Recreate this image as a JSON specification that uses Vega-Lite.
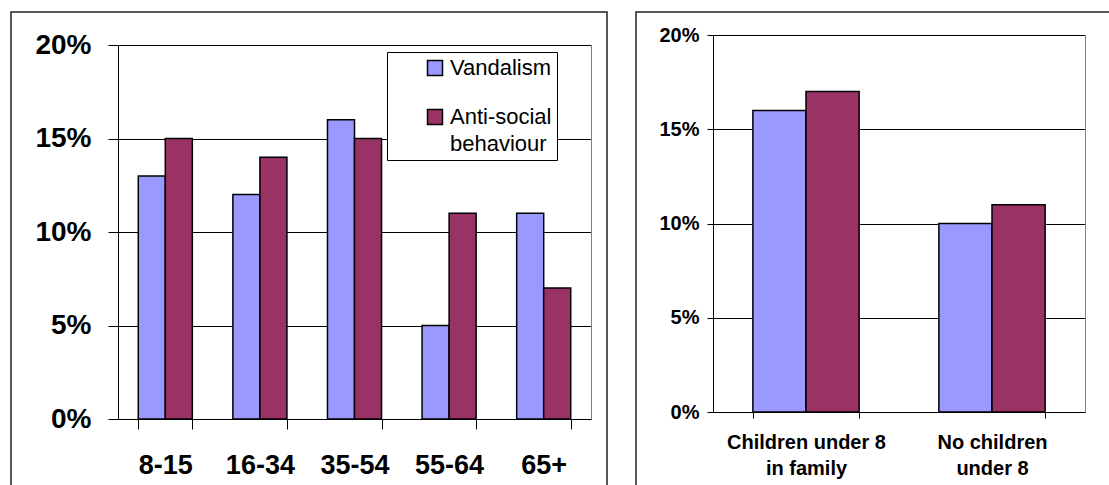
{
  "$schema": "https://vega.github.io/schema/vega-lite/v6.json",
  "background": "white",
  "padding": {"left": 10, "top": 11, "right": 0, "bottom": 0},
  "datasets": {
    "age": [
      {"group": "8-15", "series": "Vandalism", "value": 0.13},
      {"group": "8-15", "series": "Anti-social behaviour", "value": 0.15},
      {"group": "16-34", "series": "Vandalism", "value": 0.12},
      {"group": "16-34", "series": "Anti-social behaviour", "value": 0.14},
      {"group": "35-54", "series": "Vandalism", "value": 0.16},
      {"group": "35-54", "series": "Anti-social behaviour", "value": 0.15},
      {"group": "55-64", "series": "Vandalism", "value": 0.05},
      {"group": "55-64", "series": "Anti-social behaviour", "value": 0.11},
      {"group": "65+", "series": "Vandalism", "value": 0.11},
      {"group": "65+", "series": "Anti-social behaviour", "value": 0.07}
    ],
    "family": [
      {"group": "Children under 8 in family", "series": "Vandalism", "value": 0.16},
      {"group": "Children under 8 in family", "series": "Anti-social behaviour", "value": 0.17},
      {"group": "No children under 8", "series": "Vandalism", "value": 0.10},
      {"group": "No children under 8", "series": "Anti-social behaviour", "value": 0.11}
    ]
  },
  "hconcat": [
    {
      "width": 596,
      "height": 476,
      "data": {"name": "age"},
      "layer": [
        {
          "mark": {"type": "bar", "stroke": "#000000", "strokeWidth": 1.5, "strokeOpacity": 1},
          "encoding": {
            "x": {
              "field": "group", "type": "nominal", "sort": null,
              "scale": {"range": [107, 580], "paddingInner": 0.4286, "paddingOuter": 0.2143},
              "axis": {"orient": "bottom", "offset": -69, "tickBand": "extent", "tickSize": 10, "tickColor": "black", "domainColor": "black", "labelFontSize": 27, "labelPadding": 23, "labelAngle": 0, "title": null, "grid": false}
            },
            "xOffset": {"field": "series", "type": "nominal", "sort": null, "scale": {"paddingInner": 0, "paddingOuter": 0}},
            "y": {
              "field": "value", "type": "quantitative",
              "scale": {"domain": [0, 0.2], "range": [407, 33], "nice": false},
              "axis": {"orient": "left", "offset": -107, "values": [0, 0.05, 0.1, 0.15, 0.2], "format": ".0%", "tickSize": 10, "tickColor": "black", "domainColor": "black", "grid": true, "gridColor": "black", "labelFontSize": 28, "labelPadding": 17, "title": null}
            },
            "color": {
              "field": "series", "type": "nominal", "sort": null,
              "scale": {"domain": ["Vandalism", "Anti-social behaviour"], "range": ["#9999FF", "#993366"]},
              "legend": {
                "orient": "none", "legendX": 376, "legendY": 40, "title": null,
                "strokeColor": "black", "fillColor": "white", "padding": 5,
                "symbolType": "square", "symbolSize": 225, "symbolStrokeColor": "black", "symbolStrokeWidth": 1.5,
                "symbolOffset": 32, "labelOffset": 4,
                "labelFont": "Liberation Sans", "labelFontSize": 22, "labelFontWeight": "normal", "labelColor": "black",
                "labelBaseline": "middle", "labelLimit": 400, "rowPadding": 27,
                "labelExpr": "datum.label == 'Anti-social behaviour' ? ['Anti-social', 'behaviour'] : datum.label"
              }
            }
          }
        },
        {
          "mark": {"type": "rule", "opacity": 0},
          "encoding": {
            "y": {
              "field": "value", "type": "quantitative",
              "axis": {"orient": "right", "offset": -16, "domainColor": "#808080", "ticks": false, "labels": false, "grid": false, "title": null}
            }
          }
        }
      ],
      "resolve": {"axis": {"y": "independent"}}
    },
    {
      "width": 476,
      "height": 476,
      "data": {"name": "family"},
      "layer": [
        {
          "mark": {"type": "bar", "stroke": "#000000", "strokeWidth": 1.5, "strokeOpacity": 1},
          "encoding": {
            "x": {
              "field": "group", "type": "nominal", "sort": null,
              "scale": {"range": [77, 449], "paddingInner": 0.4286, "paddingOuter": 0.2143},
              "axis": {"orient": "bottom", "offset": -76, "tickBand": "extent", "tickSize": 6, "tickColor": "black", "domainColor": "black", "labelFontSize": 20, "labelLineHeight": 26, "labelPadding": 14, "labelAngle": 0, "title": null, "grid": false,
                "labelExpr": "datum.label == 'Children under 8 in family' ? ['Children under 8', 'in family'] : datum.label == 'No children under 8' ? ['No children', 'under 8'] : datum.label"}
            },
            "xOffset": {"field": "series", "type": "nominal", "sort": null, "scale": {"paddingInner": 0, "paddingOuter": 0}},
            "y": {
              "field": "value", "type": "quantitative",
              "scale": {"domain": [0, 0.2], "range": [400, 23], "nice": false},
              "axis": {"orient": "left", "offset": -77, "values": [0, 0.05, 0.1, 0.15, 0.2], "format": ".0%", "tickSize": 6, "tickColor": "black", "domainColor": "black", "grid": true, "gridColor": "black", "labelFontSize": 20, "labelPadding": 8, "title": null}
            },
            "color": {
              "field": "series", "type": "nominal", "sort": null,
              "scale": {"domain": ["Vandalism", "Anti-social behaviour"], "range": ["#9999FF", "#993366"]},
              "legend": null
            }
          }
        },
        {
          "mark": {"type": "rule", "opacity": 0},
          "encoding": {
            "y": {
              "field": "value", "type": "quantitative",
              "axis": {"orient": "right", "offset": -27, "domainColor": "#808080", "ticks": false, "labels": false, "grid": false, "title": null}
            }
          }
        }
      ],
      "resolve": {"axis": {"y": "independent"}}
    }
  ],
  "spacing": 27,
  "resolve": {"scale": {"color": "independent", "xOffset": "independent"}, "legend": {"color": "independent"}},
  "config": {
    "view": {"stroke": "#222222", "strokeWidth": 1.5},
    "axis": {"labelFont": "Liberation Sans", "labelFontWeight": "bold", "labelColor": "black", "domainWidth": 1, "tickWidth": 1},
    "style": {"guide-label": {"lineHeight": 27}}
  }
}
